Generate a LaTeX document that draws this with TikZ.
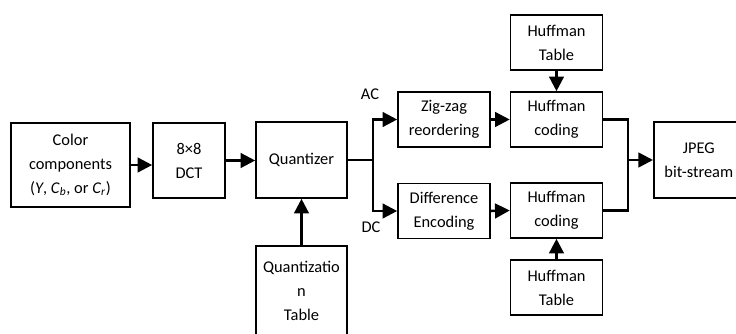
\documentclass[tikz,border=0pt]{standalone}
\usepackage{fontspec}
\setmainfont{Carlito}
\usetikzlibrary{arrows.meta}
\tikzset{
  block/.style={draw, line width=1.2pt, align=center, inner sep=0pt,
    font=\fontsize{12.3}{18}\selectfont},
  smallblock/.style={block, minimum width=69pt, minimum height=41.25pt},
  conn/.style={line width=1.9pt, -{Triangle[length=11pt,width=11pt]}},
  plain/.style={line width=1.9pt},
}

\begin{document}
\begin{tikzpicture}[x=0.75pt, y=-0.75pt]
\useasboundingbox (0,0) rectangle (736,334);

% --- Source side ---
\node[block, minimum width=89.25pt, minimum height=63pt] (color) at (70.5,165)
  {Color\\components\\(\textit{Y}, \textit{C}\textsubscript{\textit{b}}, or \textit{C}\textsubscript{\textit{r}})};
\node[block, minimum width=54pt, minimum height=56.25pt] (dct) at (189,160.5)
  {8×8\\DCT};
\node[block, minimum width=68.25pt, minimum height=57pt] (quant) at (301.5,160)
  {Quantizer};
\node[block, minimum width=68.25pt, minimum height=68.25pt, anchor=north]
  (qtable) at (301.5,245) {Quantizatio\\n\\Table};

% --- AC / DC branches ---
\coordinate (split) at (373,160);
\node[font=\fontsize{12.3}{18}\selectfont] (lblac) at (370,94) {AC};
\node[font=\fontsize{12.3}{18}\selectfont] (lbldc) at (371,227) {DC};
\node[smallblock] (zigzag) at (444,119.5) {Zig-zag\\reordering};
\node[smallblock] (diff) at (444,211) {Difference\\Encoding};

% --- Entropy coding ---
\node[smallblock] (hcac) at (556.5,119.5) {Huffman\\coding};
\node[smallblock] (htac) at (556.5,42.5) {Huffman\\Table};
\node[smallblock] (hcdc) at (556.5,210.5) {Huffman\\coding};
\node[smallblock] (htdc) at (556.5,287.5) {Huffman\\Table};
\coordinate (merge) at (628,160);
\node[block, minimum width=67.5pt, minimum height=57pt, anchor=west] (jpeg)
  at (653,160) {JPEG\\bit-stream};

% Connectors
\draw[conn] (color.east) -- (color.east -| dct.west);
\draw[conn] (dct.east) -- (dct.east -| quant.west);
\draw[conn] (qtable.north) -- (quant.south);
\draw[plain] (quant.east) -- (split);
\draw[conn] (split) |- (zigzag.west);
\draw[conn] (split) |- (diff.west);
\draw[conn] (zigzag.east) -- (hcac.west);
\draw[conn] (diff.east) -- (hcdc.west);
\draw[conn] (htac.south) -- (hcac.north);
\draw[conn] (htdc.north) -- (hcdc.south);
\draw[plain] (hcac.east) -| (merge) |- (hcdc.east);
\draw[conn] (merge) -- (jpeg.west);
\end{tikzpicture}
\end{document}
